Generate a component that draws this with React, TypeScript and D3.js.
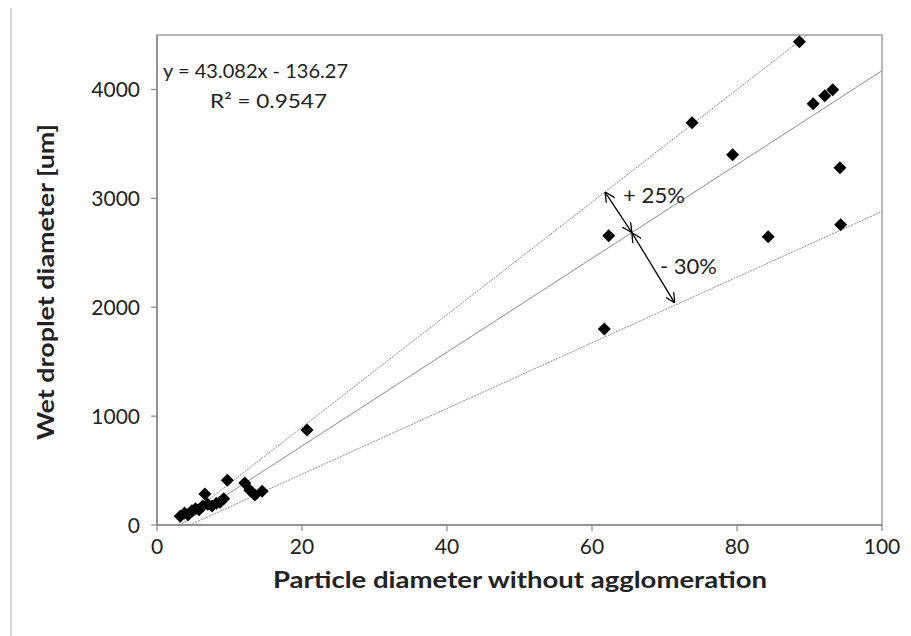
import React from 'react';
import * as d3 from 'd3';

const particleDiameter = [3.2, 3.8, 4.3, 4.8, 5.3, 5.8, 6.3, 6.6, 7.0, 7.6, 8.2, 8.7, 9.2, 9.7, 12.1, 12.8, 13.5, 14.5, 20.7, 61.7, 62.3, 73.8, 79.4, 84.3, 88.6, 90.5, 92.1, 93.2, 94.2, 94.3];
const wetDroplet = [80, 110, 95, 130, 150, 140, 175, 285, 190, 175, 200, 210, 240, 410, 386, 320, 276, 310, 873, 1801, 2656, 3695, 3401, 2647, 4439, 3869, 3943, 3998, 3281, 2757];
const xTicks = [0, 20, 40, 60, 80, 100];
const yTicks = [0, 1000, 2000, 3000, 4000];
const fitSlope = 43.082;
const fitIntercept = -136.27;
const bandFactors = [1.2, 1, 0.7];
const equationText = 'y = 43.082x - 136.27';
const r2Text = 'R² = 0.9547';
const xTitle = 'Particle diameter without agglomeration';
const yTitle = 'Wet droplet diameter [um]';
const arrowPoints = [[61.8, 3058], [65.5, 2685], [71.4, 2040]];
const arrowLabels = ['+ 25%', '- 30%'];

const W = 911, H = 636;
const L = 157, T = 35, R = 882, B = 525;
const FONT = 'Lato, "Open Sans", sans-serif';

export default function App() {
  const x = d3.scaleLinear().domain([0, 100]).range([L, R]);
  const y = d3.scaleLinear().domain([0, 4500]).range([B, T]);
  const line = d3.line<[number, number]>().x(d => x(d[0])).y(d => y(d[1]));

  const bandLines = bandFactors.map(f => {
    const s = f * fitSlope;
    const x0 = -fitIntercept / s;
    let x1 = 100;
    let y1 = s * x1 + fitIntercept;
    if (y1 > 4500) { y1 = 4500; x1 = (4500 - fitIntercept) / s; }
    return { f, pts: [[x0, 0], [x1, y1]] as [number, number][] };
  });

  const diamond = (cx: number, cy: number, r: number) => `M${cx},${cy - r}L${cx + r},${cy}L${cx},${cy + r}L${cx - r},${cy}Z`;

  return (
    <svg width={W} height={H} style={{ position: 'absolute', left: 0, top: 0, background: '#fff' }}>
      <defs>
        <marker id="arr" viewBox="0 0 10 10" refX="10" refY="5" markerWidth="10" markerHeight="10" markerUnits="userSpaceOnUse" orient="auto-start-reverse">
          <path d="M0,0L10,5L0,10" fill="none" stroke="#000" strokeWidth="1.3" />
        </marker>
      </defs>
      <line x1={11} x2={11} y1={8} y2={H} stroke="#c8c8c8" strokeWidth={1.5} />
      <rect x={L} y={T} width={R - L} height={B - T} fill="none" stroke="#8a8a8a" strokeWidth={1.2} />
      <line x1={L} x2={L} y1={T} y2={B} stroke="#868686" strokeWidth={1.5} />
      <line x1={L} x2={R} y1={B} y2={B} stroke="#868686" strokeWidth={1.5} />
      {yTicks.map(t => (
        <g key={'y' + t}>
          <line x1={L - 6} x2={L} y1={y(t)} y2={y(t)} stroke="#868686" strokeWidth={1.2} />
          <text x={L - 17} y={y(t)} dy="0.36em" textAnchor="end" fontFamily={FONT} fontSize={21} fill="#222">{t}</text>
        </g>
      ))}
      {xTicks.map(t => (
        <g key={'x' + t}>
          <line x1={x(t)} x2={x(t)} y1={B} y2={B + 6} stroke="#868686" strokeWidth={1.2} />
          <text x={x(t)} y={546} dy="0.36em" textAnchor="middle" fontFamily={FONT} fontSize={21} fill="#222">{t}</text>
        </g>
      ))}
      <text x={520} y={580} dy="0.35em" textAnchor="middle" fontFamily={FONT} fontSize={23} fontWeight="bold" fill="#222" textLength={494} lengthAdjust="spacingAndGlyphs">{xTitle}</text>
      <text transform={`translate(46,282) rotate(-90)`} dy="0.35em" textAnchor="middle" fontFamily={FONT} fontSize={23} fontWeight="bold" fill="#222" textLength={316} lengthAdjust="spacingAndGlyphs">{yTitle}</text>
      {bandLines.map(b => (
        <path key={b.f} d={line(b.pts) || ''} fill="none" stroke="#8c8c8c" strokeWidth={1} strokeDasharray={b.f === 1 ? undefined : '2,1'} />
      ))}
      {particleDiameter.map((px, i) => (
        <path key={i} d={diamond(x(px), y(wetDroplet[i]), 6.5)} fill="#000" />
      ))}
      {[0, 1].map(i => (
        <line key={'a' + i} x1={x(arrowPoints[i][0])} y1={y(arrowPoints[i][1])} x2={x(arrowPoints[i + 1][0])} y2={y(arrowPoints[i + 1][1])}
          stroke="#000" strokeWidth={1.3} markerStart="url(#arr)" markerEnd="url(#arr)" />
      ))}
      <text x={623} y={196} dy="0.35em" fontFamily={FONT} fontSize={21} fill="#222" textLength={62} lengthAdjust="spacingAndGlyphs">{arrowLabels[0]}</text>
      <text x={660} y={267} dy="0.35em" fontFamily={FONT} fontSize={21} fill="#222" textLength={57} lengthAdjust="spacingAndGlyphs">{arrowLabels[1]}</text>
      <text x={163} y={71} dy="0.35em" fontFamily={FONT} fontSize={19} fill="#222" textLength={185} lengthAdjust="spacingAndGlyphs">{equationText}</text>
      <text x={210} y={101} dy="0.35em" fontFamily={FONT} fontSize={19} fill="#222" textLength={117} lengthAdjust="spacingAndGlyphs">{r2Text}</text>
    </svg>
  );
}
